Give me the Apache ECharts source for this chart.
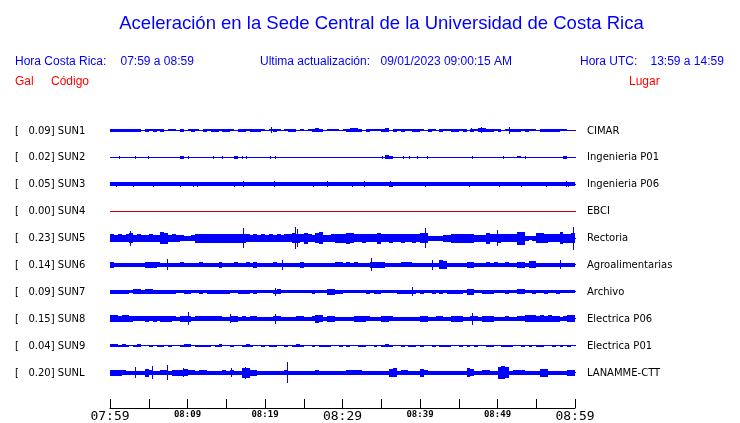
<!DOCTYPE html>
<html><head><meta charset="utf-8">
<script src="https://cdn.jsdelivr.net/npm/echarts@6/dist/echarts.min.js"></script>
<style>html,body{margin:0;padding:0;background:#fff}#c{width:740px;height:423px}</style>
</head><body><div id="c"></div>
<script>
// ---------------- data ----------------
const codes  = ['SUN1','SUN2','SUN3','SUN4','SUN5','SUN6','SUN7','SUN8','SUN9','SUNL'];
const places = ['CIMAR','Ingenieria P01','Ingenieria P06','EBCI','Rectoria','Agroalimentarias','Archivo','Electrica P06','Electrica P01','LANAMME-CTT'];
const peakGal = ['0.09','0.02','0.05','0.00','0.23','0.14','0.09','0.15','0.04','0.20'];
const tickMinutes = [0,10,20,30,40,50,60];
const tickLabels  = ['07:59','08:09','08:19','08:29','08:39','08:49','08:59'];
const bigTickLabels = ['07:59','08:29','08:59'];

// half-amplitude envelopes, one value per half minute (120 samples), in hundredths of a gal
const env_SUN1 = [3,3,3,3,3,3,3,3,1,3,2,3,2,3,1,2,2,1,3,1,2,3,2,1,3,2,3,3,2,3,3,2,1,3,3,2,3,3,3,2,1,2,3,2,1,2,3,3,1,2,1,2,3,4,3,1,2,2,2,1,2,3,4,4,3,1,3,2,2,2,3,4,1,3,2,3,2,2,3,3,2,1,3,2,1,3,2,2,3,3,2,3,1,3,2,4,4,3,3,2,3,1,2,3,3,3,2,3,2,2,1,3,3,3,3,3,2,2,1,1];
const env_SUN2 = [0,0,0,0,0,0,0,0,0,0,0,0,0,0,0,0,0,0,3,0,0,0,0,0,0,0,0,0,0,0,0,0,3,0,0,0,0,0,0,0,0,0,0,0,0,0,0,0,0,0,0,0,0,0,0,0,0,0,0,0,0,0,0,0,0,0,0,0,0,0,0,4,3,0,0,0,0,0,0,0,0,0,0,0,0,0,0,0,0,0,0,0,0,0,0,0,0,0,0,0,0,0,0,0,0,2,0,0,0,0,0,0,0,0,0,0,0,3,0,0];
const env_SUN3 = [4,4,4,4,4,5,5,4,4,4,4,4,4,4,4,4,4,4,5,4,4,5,5,4,4,4,4,4,4,4,4,5,4,4,5,4,4,4,4,4,4,4,5,4,4,4,4,4,4,4,4,4,5,5,4,4,5,4,4,4,4,4,4,4,4,5,4,4,4,4,4,4,6,5,4,4,4,4,4,4,4,4,4,4,4,4,4,4,4,4,4,4,4,4,4,4,4,4,4,4,5,4,4,4,4,4,5,4,4,4,4,4,5,5,4,4,4,5,5,5];
const env_SUN4 = [0,0,0,0,0,0,0,0,0,0,0,0,0,0,0,0,0,0,0,0,0,0,0,0,0,0,0,0,0,0,0,0,0,0,0,0,0,0,0,0,0,0,0,0,0,0,0,0,0,0,0,0,0,0,0,0,0,0,0,0,0,0,0,0,0,0,0,0,0,0,0,0,0,0,0,0,0,0,0,0,0,0,0,0,0,0,0,0,0,0,0,0,0,0,0,0,0,0,0,0,0,0,0,0,0,0,0,0,0,0,0,0,0,0,0,0,0,0,0,0];
const env_SUN5 = [9,8,9,8,9,11,8,9,8,8,9,8,8,13,12,8,9,8,7,6,6,7,10,10,10,10,10,10,10,10,10,10,10,10,10,9,8,9,8,9,8,9,8,9,8,9,9,11,10,9,12,9,8,11,13,8,8,9,10,10,10,12,11,9,9,10,9,9,9,12,9,9,10,9,9,10,9,9,10,9,11,11,6,6,6,6,8,8,10,10,10,10,10,10,8,8,8,12,9,9,10,9,9,9,9,15,14,6,5,6,11,11,10,9,9,9,13,10,10,11];
const env_SUN6 = [7,4,4,4,4,4,4,4,4,7,7,7,6,4,4,4,4,4,6,4,4,4,4,6,4,4,4,4,7,4,4,4,6,4,4,6,4,7,4,4,4,4,6,4,5,4,4,4,4,7,4,4,4,4,4,4,4,5,6,6,4,6,4,6,4,4,4,7,7,7,7,4,4,4,4,6,6,6,4,4,4,4,4,5,4,10,9,4,4,4,4,4,7,7,4,4,4,6,4,6,4,4,6,4,4,7,7,4,8,8,4,4,4,4,4,4,5,4,4,4];
const env_SUN7 = [5,5,4,5,5,3,6,6,5,6,6,5,4,5,4,5,5,3,3,5,5,3,3,5,3,5,5,5,5,5,5,3,3,5,5,5,3,5,3,3,3,3,5,6,3,3,3,3,3,3,3,3,5,3,3,3,7,7,5,5,3,3,3,3,3,3,5,3,5,5,3,3,3,3,5,5,5,5,5,3,5,3,3,5,3,5,3,5,5,5,5,3,7,7,3,3,5,5,5,3,3,3,5,3,3,6,6,3,3,5,3,3,5,3,3,5,3,3,3,3];
const env_SUN8 = [8,8,7,8,8,7,6,6,6,7,6,7,6,7,7,7,6,5,7,7,7,5,6,6,6,6,6,6,6,5,5,7,7,5,6,5,6,6,5,5,5,5,6,6,5,5,5,5,6,6,5,5,6,9,8,5,7,7,5,5,5,5,5,7,7,7,6,5,5,5,7,7,6,5,5,5,5,5,5,5,7,7,5,5,6,6,5,5,7,7,7,5,5,6,6,5,7,7,7,5,5,5,6,5,5,6,6,8,8,8,7,8,7,8,7,7,5,6,8,8];
const env_SUN9 = [3,3,2,3,2,0,2,3,0,0,2,0,2,2,0,2,0,0,2,3,3,0,2,2,2,2,0,2,3,0,0,2,0,0,2,3,2,0,0,2,0,2,2,0,0,2,0,2,3,2,0,0,2,0,2,2,2,0,0,2,0,2,0,0,2,2,0,0,2,0,2,3,2,0,0,2,0,2,2,0,2,0,0,2,0,2,2,2,0,0,2,0,2,0,2,0,0,2,2,0,0,2,2,2,0,0,2,0,2,0,2,2,0,0,2,0,2,0,2,0];
const env_SUNL = [7,7,7,6,4,4,5,4,4,9,6,4,4,6,6,5,7,7,7,8,6,6,4,6,6,5,4,4,4,6,4,6,5,4,11,11,7,7,4,4,4,5,4,4,4,6,4,4,4,4,4,4,4,6,4,4,4,4,4,4,4,6,6,6,6,4,4,5,5,4,4,4,9,10,4,6,6,4,4,4,9,6,4,4,4,4,5,4,4,4,4,4,10,8,4,4,6,6,4,4,13,14,12,4,6,6,6,4,4,4,4,9,9,4,4,4,5,4,7,7];

// isolated narrow peaks: [minute after 07:59, half-amplitude in hundredths of a gal]
const spk_SUN1 = [[20.8,7],[46.6,5],[47.9,7],[51.5,8]];
const spk_SUN2 = [[1.2,3],[3.25,3],[4.85,3],[10,3],[13.35,3],[14.5,3],[17,3],[17.5,3],[20.7,3],[21.35,3],[35.15,3],[37.85,3],[38.6,3],[39.65,3],[40.85,3],[46.7,3],[50.75,3],[53.6,3]];
const spk_SUN3 = [[0.8,6],[3.0,6],[5.6,6],[9.05,6],[10.75,6],[11.2,6],[15.95,6],[17.1,7],[21.1,7],[26.25,6],[28,7],[31.2,6],[32.75,7],[36.1,7],[40.7,6],[46.3,6],[50.2,6],[53,6],[56.25,6],[58.85,7],[59.1,6]];
const spk_SUN4 = [];
const spk_SUN5 = [[2.6,17],[17.2,22],[23.9,24],[24.1,20],[40.6,22],[49.9,18],[59.7,26]];
const spk_SUN6 = [[7.3,12],[22.2,11],[33.7,15],[41.5,11],[58,10]];
const spk_SUN7 = [[21.3,9],[39,10]];
const spk_SUN8 = [[10.1,15],[15.5,10],[21.3,11],[46.7,13]];
const spk_SUN9 = [];
const spk_SUNL = [[3.2,12],[5.4,14],[7.3,17],[9.4,10],[15.6,10],[17.4,13],[22.8,23],[50.6,15]];

const envelopes = [env_SUN1,env_SUN2,env_SUN3,env_SUN4,env_SUN5,env_SUN6,env_SUN7,env_SUN8,env_SUN9,env_SUNL];
const spikes    = [spk_SUN1,spk_SUN2,spk_SUN3,spk_SUN4,spk_SUN5,spk_SUN6,spk_SUN7,spk_SUN8,spk_SUN9,spk_SUNL];

// ---------------- chart ----------------
const STEP = 0.5;          // minutes per envelope sample
const SPACING = 0.6;       // gal between trace baselines
const T_END = 60;          // minutes shown
const N = codes.length;
const BLUE = '#0000ff', RED = '#c00000';
const baseOf = i => (N - i - 0.5) * SPACING;
const colorOf = i => peakGal[i] === '0.00' ? RED : BLUE;

// vertical extent in whole pixels, centred on the baseline pixel row
function vspan(api, t, base, a) {
  const yc = api.coord([t, base])[1];
  const yt = api.coord([t, base + a])[1];
  const h = Math.max(1, Math.round(2 * (yc - yt)));
  const top = Math.round(yc - h / 2);
  return [top, h];
}

const chart = echarts.init(document.getElementById('c'), null, {renderer:'canvas'});
const series = [];
for (let i = 0; i < N; i++) {
  const base = baseOf(i), color = colorOf(i);
  // baseline trace
  series.push({
    type:'custom', silent:true, animation:false, z:2,
    data:[[0, 0]],
    renderItem(params, api) {
      const x0 = Math.round(api.coord([0, base])[0]);
      const x1 = Math.round(api.coord([T_END, base])[0]);
      const [top] = vspan(api, 0, base, 0);
      return {type:'rect', shape:{x:x0, y:top, width:x1 - x0 + 1, height:1}, style:{fill:color}};
    }
  });
  series.push({
    type:'custom', silent:true, animation:false, z:3,
    data: envelopes[i].map((a, k) => [k * STEP, a / 100]),
    renderItem(params, api) {
      const t = api.value(0), a = api.value(1);
      if (a <= 0) return null;
      const x0 = Math.round(api.coord([t, base])[0]);
      const x1 = Math.round(api.coord([t + STEP, base])[0]);
      const [top, h] = vspan(api, t, base, a);
      return {type:'rect', shape:{x:x0, y:top, width:Math.max(1, x1 - x0), height:h}, style:{fill:color}};
    }
  });
  series.push({
    type:'custom', silent:true, animation:false, z:4,
    data: spikes[i].map(s => [s[0], s[1] / 100]),
    renderItem(params, api) {
      const t = api.value(0), a = api.value(1);
      const x = Math.round(api.coord([t, base])[0]);
      const [top, h] = vspan(api, t, base, a);
      return {type:'rect', shape:{x:x, y:top, width:1, height:h}, style:{fill:color}};
    }
  });
}

chart.setOption({
  animation:false,
  backgroundColor:'#ffffff',
  grid:{left:110, right:165, top:117, height:270},
  xAxis:{
    type:'value', min:0, max:T_END, interval:5, offset:22,
    axisLine:{show:true, onZero:false, lineStyle:{color:'#000', width:1}},
    axisTick:{show:true, inside:true, length:9, lineStyle:{color:'#000', width:1}},
    splitLine:{show:false},
    axisLabel:{
      margin:2, showMinLabel:true, showMaxLabel:true,
      formatter: v => {
        const i = tickMinutes.indexOf(v);
        if (i < 0) return '';
        const s = tickLabels[i];
        return bigTickLabels.includes(s) ? '{big|' + s + '}' : '{small|' + s + '}';
      },
      rich:{
        big:{fontFamily:'DejaVu Sans Mono', fontSize:13, color:'#000'},
        small:{fontFamily:'DejaVu Sans Mono', fontSize:9, fontWeight:'bold', color:'#000'}
      }
    }
  },
  yAxis:{type:'value', min:0, max:N * SPACING, show:false},
  series
});

// header and trace labels
const HFONT = '"Liberation Sans", Arial, sans-serif';
const LFONT = '"DejaVu Sans", sans-serif';
const g = [
  {type:'text', style:{text:'Aceleración en la Sede Central de la Universidad de Costa Rica', x:381.5, y:23.5, font:'18.5px ' + HFONT, fill:BLUE, textAlign:'center', textVerticalAlign:'middle'}},
  {type:'text', style:{text:'Hora Costa Rica:', x:15, y:61.5, font:'12px ' + HFONT, fill:BLUE, textVerticalAlign:'middle'}},
  {type:'text', style:{text:'07:59 a 08:59', x:120.5, y:61.5, font:'12px ' + HFONT, fill:BLUE, textVerticalAlign:'middle'}},
  {type:'text', style:{text:'Ultima actualización:', x:260, y:61.5, font:'12px ' + HFONT, fill:BLUE, textVerticalAlign:'middle'}},
  {type:'text', style:{text:'09/01/2023 09:00:15 AM', x:380.5, y:61.5, font:'12px ' + HFONT, fill:BLUE, textVerticalAlign:'middle'}},
  {type:'text', style:{text:'Hora UTC:', x:580, y:61.5, font:'12px ' + HFONT, fill:BLUE, textVerticalAlign:'middle'}},
  {type:'text', style:{text:'13:59 a 14:59', x:650.5, y:61.5, font:'12px ' + HFONT, fill:BLUE, textVerticalAlign:'middle'}},
  {type:'text', style:{text:'Gal', x:15, y:81.5, font:'12px ' + HFONT, fill:'#ff0000', textVerticalAlign:'middle'}},
  {type:'text', style:{text:'Código', x:51, y:81.5, font:'12px ' + HFONT, fill:'#ff0000', textVerticalAlign:'middle'}},
  {type:'text', style:{text:'Lugar', x:629, y:81.5, font:'12px ' + HFONT, fill:'#ff0000', textVerticalAlign:'middle'}}
];
for (let i = 0; i < N; i++) {
  const y = chart.convertToPixel({gridIndex:0}, [0, baseOf(i)])[1];
  g.push({type:'text', style:{text:'[   ' + peakGal[i] + '] ' + codes[i], x:15, y:y + 0.5, font:'10px ' + LFONT, fill:'#000', textVerticalAlign:'middle'}});
  g.push({type:'text', style:{text:places[i], x:587, y:y + 0.5, font:'10px ' + LFONT, fill:'#000', textVerticalAlign:'middle'}});
}
chart.setOption({graphic:g});
</script>
</body></html>
